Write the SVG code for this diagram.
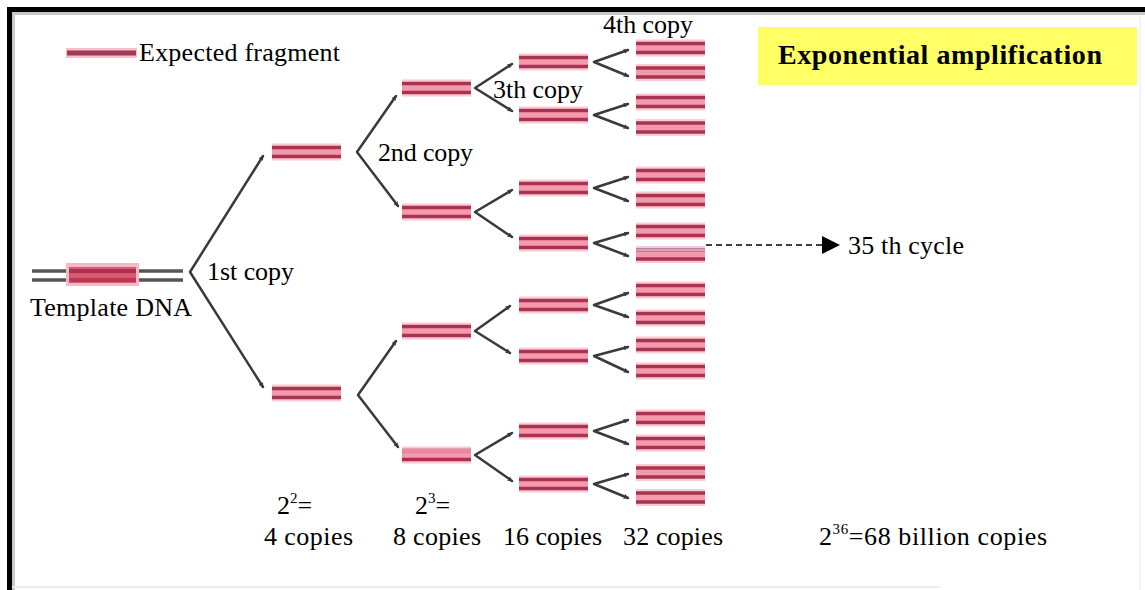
<svg xmlns="http://www.w3.org/2000/svg" xmlns:xlink="http://www.w3.org/1999/xlink" width="1145" height="590" viewBox="0 0 1145 590">
  <style>
    text { font-family: "Liberation Serif", "Times New Roman", serif; font-size: 26px; fill: #000; }
    .title { font-weight: bold; font-size: 28px; }
    .arm { fill: none; stroke: #3a3a3a; stroke-width: 2.5; stroke-linecap: round; stroke-linejoin: round; marker-start: url(#tip); marker-end: url(#tip); }
    .dl { stroke: #a8324f; stroke-width: 3.4; }
    .pale { stroke: #c9a6c2; stroke-width: 3; }
  </style>
  <defs>
    <marker id="tip" viewBox="0 0 6 6" refX="5" refY="3" markerWidth="5" markerHeight="5" markerUnits="userSpaceOnUse" orient="auto-start-reverse">
      <path d="M0,0 L6,3 L0,6 z" fill="#3a3a3a"/>
    </marker>
    <g id="frag">
      <rect x="0" y="-8.5" width="69" height="17" fill="#fbcad3"/>
      <rect x="0" y="-4.5" width="69" height="9" fill="#f49aac"/>
      <line x1="0" y1="-4.5" x2="69" y2="-4.5" class="dl"/>
      <line x1="0" y1="4.5" x2="69" y2="4.5" class="dl"/>
    </g>
  </defs>

  <rect width="1145" height="590" fill="#ffffff"/>

  <!-- frame -->
  <g id="frame">
    <rect x="7" y="12" width="1138" height="3" fill="#c8c8cc"/>
    <rect x="12" y="12" width="3" height="578" fill="#c8c8cc"/>
    <rect x="7" y="7" width="1138" height="5" fill="#000"/>
    <rect x="7" y="7" width="5" height="583" fill="#000"/>
    <rect x="12" y="586" width="928" height="2" fill="#ececf2"/>
    <rect x="1139" y="15" width="2" height="575" fill="#f4f4f6"/>
  </g>

  <!-- legend -->
  <g id="legend">
    <rect x="66" y="48" width="71" height="10" fill="#f6c0cc"/>
    <line x1="67" y1="53" x2="136" y2="53" stroke="#a03a58" stroke-width="5"/>
    <text x="139" y="61" textLength="201">Expected fragment</text>
  </g>

  <g id="title">
    <rect x="758" y="27" width="379" height="58" fill="#ffff66"/>
    <text class="title" x="778" y="64" textLength="324">Exponential amplification</text>
  </g>

  <!-- connectors -->
  <g id="connectors">
    <path class="arm" d="M263,156 L190,272 L263,387"/>
    <path class="arm" d="M396,96 L357,152 L398,206"/>
    <path class="arm" d="M396,341 L358,395 L398,447"/>
    <path class="arm" d="M512,64 L475,88 L512,111"/>
    <path class="arm" d="M512,190 L475,212 L512,237"/>
    <path class="arm" d="M510,306 L475,331 L510,353"/>
    <path class="arm" d="M512,433 L475,455 L512,481"/>
    <path class="arm" d="M628,50 L594,62 L628,76"/>
    <path class="arm" d="M628,104 L594,115 L628,128"/>
    <path class="arm" d="M628,177 L594,188 L628,201"/>
    <path class="arm" d="M628,233 L594,243 L628,256"/>
    <path class="arm" d="M628,293 L594,305 L628,317"/>
    <path class="arm" d="M628,347 L594,356 L628,372"/>
    <path class="arm" d="M628,420 L594,431 L628,444"/>
    <path class="arm" d="M628,474 L594,484 L628,498"/>
    <line x1="706" y1="245" x2="822" y2="245" stroke="#000" stroke-width="1.6" stroke-dasharray="6,4"/>
    <polygon points="822,236 840,245 822,254" fill="#000"/>
  </g>

  <!-- template -->
  <g id="template">
    <line x1="32" y1="271" x2="183" y2="271" stroke="#555" stroke-width="3.5"/>
    <line x1="32" y1="280" x2="183" y2="280" stroke="#555" stroke-width="3.5"/>
    <rect x="66" y="263" width="73" height="23" fill="#f6b8c6"/>
    <rect x="69" y="267" width="67" height="16" fill="#d9596f"/>
    <line x1="69" y1="271" x2="136" y2="271" stroke="#a8324f" stroke-width="4"/>
    <line x1="69" y1="280" x2="136" y2="280" stroke="#b83a55" stroke-width="4"/>
    <text x="30" y="316" textLength="162">Template DNA</text>
  </g>

  <!-- level 1 -->
  <g id="level1">
    <use xlink:href="#frag" href="#frag" transform="translate(272,152)"/>
    <use xlink:href="#frag" href="#frag" transform="translate(272,393)"/>
    <text x="207" y="280" textLength="87">1st copy</text>
  </g>

  <!-- level 2 -->
  <g id="level2">
    <use href="#frag" transform="translate(402,88)"/>
    <use href="#frag" transform="translate(402,212)"/>
    <use href="#frag" transform="translate(402,331)"/>
    <use href="#frag" transform="translate(402,455)"/>
    <line x1="402" y1="450.5" x2="471" y2="450.5" stroke="#e98aa0" stroke-width="3"/>
    <text x="378" y="161" textLength="95">2nd copy</text>
  </g>

  <!-- level 3 -->
  <g id="level3">
    <use href="#frag" transform="translate(519,62)"/>
    <use href="#frag" transform="translate(519,115)"/>
    <use href="#frag" transform="translate(519,188)"/>
    <use href="#frag" transform="translate(519,243)"/>
    <use href="#frag" transform="translate(519,305)"/>
    <use href="#frag" transform="translate(519,356)"/>
    <use href="#frag" transform="translate(519,431)"/>
    <use href="#frag" transform="translate(519,484)"/>
    <text x="493" y="98" textLength="90">3th copy</text>
  </g>

  <!-- level 4 -->
  <g id="level4">
    <use href="#frag" transform="translate(636,48)"/>
    <use href="#frag" transform="translate(636,72.5)"/>
    <use href="#frag" transform="translate(636,102)"/>
    <use href="#frag" transform="translate(636,127.5)"/>
    <use href="#frag" transform="translate(636,175)"/>
    <use href="#frag" transform="translate(636,200)"/>
    <use href="#frag" transform="translate(636,231)"/>
    <use href="#frag" transform="translate(636,254.5)"/>
    <line x1="636" y1="250" x2="705" y2="250" class="pale"/>
    <use href="#frag" transform="translate(636,290)"/>
    <use href="#frag" transform="translate(636,318)"/>
    <use href="#frag" transform="translate(636,345)"/>
    <use href="#frag" transform="translate(636,371)"/>
    <use href="#frag" transform="translate(636,418)"/>
    <use href="#frag" transform="translate(636,443)"/>
    <use href="#frag" transform="translate(636,472.5)"/>
    <use href="#frag" transform="translate(636,497.5)"/>
    <text x="603" y="33" textLength="90">4th copy</text>
  </g>

  <g id="cycle-label">
    <text x="848" y="254" textLength="116">35 th cycle</text>
  </g>

  <!-- bottom counts -->
  <g id="counts">
    <text x="277" y="514">2<tspan font-size="15" dy="-11">2</tspan><tspan dy="11">=</tspan></text>
    <text x="415" y="514">2<tspan font-size="15" dy="-11">3</tspan><tspan dy="11">=</tspan></text>
    <text x="264" y="545" textLength="89">4 copies</text>
    <text x="393" y="545" textLength="88">8 copies</text>
    <text x="503" y="545" textLength="99">16 copies</text>
    <text x="623" y="545" textLength="100">32 copies</text>
    <text x="819" y="545" textLength="228">2<tspan font-size="15" dy="-11">36</tspan><tspan dy="11">=68 billion copies</tspan></text>
  </g>
</svg>
